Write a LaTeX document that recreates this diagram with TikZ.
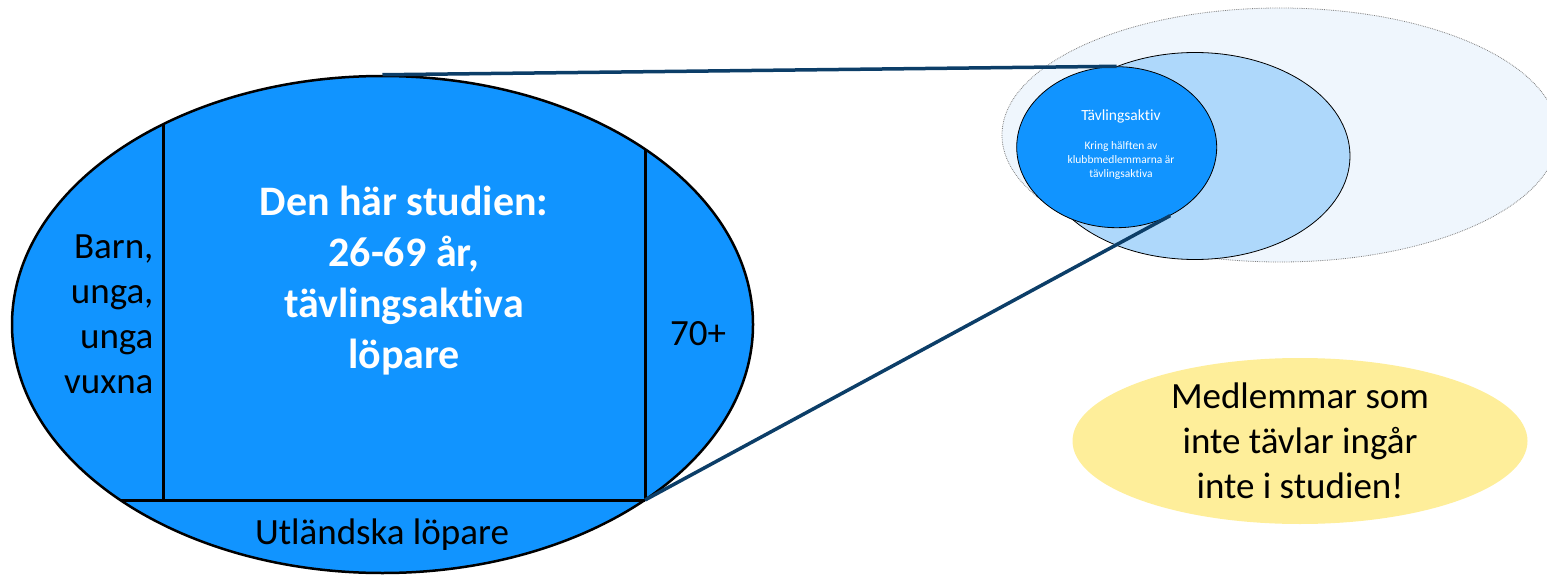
\documentclass[tikz,border=0pt]{standalone}
\usepackage{fontspec}
\setmainfont{Carlito}[Ligatures=NoCommon]
\usetikzlibrary{shapes.geometric}
\definecolor{mainblue}{RGB}{17,148,255}
\definecolor{midblue}{RGB}{174,216,251}
\definecolor{paleblue}{RGB}{239,246,253}
\definecolor{navy}{RGB}{12,62,104}
\definecolor{soft}{RGB}{254,238,154}
\tikzset{
  oval/.style={ellipse, inner sep=0pt},
  divider/.style={line width=3pt, black},
  link/.style={line width=3.5pt, navy},
  bigtxt/.style={font=\fontsize{37}{45}\selectfont, text=black},
}
\begin{document}
\begin{tikzpicture}[x=1pt,y=-1pt]
\useasboundingbox (0,0) rectangle (1547,575);
% small ellipses group
\node[oval, draw=gray, densely dotted, line width=0.8pt, fill=paleblue,
  minimum width=556pt, minimum height=254pt] (outer) at (1280,135) {};
\node[oval, draw=black, line width=0.8pt, fill=midblue,
  minimum width=310pt, minimum height=207pt] (mid) at (1195,156) {};
\node[oval, draw=black, line width=0.8pt, fill=mainblue,
  minimum width=200pt, minimum height=161pt] (small) at (1116.7,147.2) {};
\node[text=white, font=\fontsize{15.5}{18}\selectfont] (stitle) at (1121,116.5) {Tävlingsaktiv};
\node[text=white, align=center, font=\fontsize{11.5}{13.7}\selectfont] (stext) at (1121,160.3)
  {Kring hälften av\\klubbmedlemmarna är\\tävlingsaktiva};
% big ellipse
\node[oval, draw=black, line width=2.5pt, fill=mainblue,
  minimum width=741pt, minimum height=497pt] (big) at (382.5,324.5) {};
\coordinate (lt) at (163,124.5);
\coordinate (lb) at (163,500);
\coordinate (rt) at (645,149.5);
\coordinate (rb) at (645,500);
\coordinate (hl) at (121,500);
\draw[divider] (lt) -- (lb);
\draw[divider] (rt) -- (rb);
\draw[divider] (hl) -- (rb);
% connectors
\draw[link] (big.north) -- (small.north);
\draw[link] (rb) -- (small.-52);
% texts in big ellipse
\node[text=white, align=center, font=\bfseries\fontsize{42}{51}\selectfont] (study) at (404,281)
  {Den här studien:\\26-69 år,\\tävlingsaktiva\\löpare};
\node[bigtxt, align=right, anchor=east] (kids) at (157,314) {Barn,\\unga,\\unga\\vuxna};
\node[bigtxt] (old) at (698,334) {70+};
\node[bigtxt] (foreign) at (382,535) {Utländska löpare};
% yellow note
\node[oval, fill=soft, minimum width=455pt, minimum height=166pt] (note) at (1300,441) {};
\node[bigtxt, align=center] (notetxt) at (note.center) {Medlemmar som\\inte tävlar ingår\\inte i studien!};
\end{tikzpicture}
\end{document}
